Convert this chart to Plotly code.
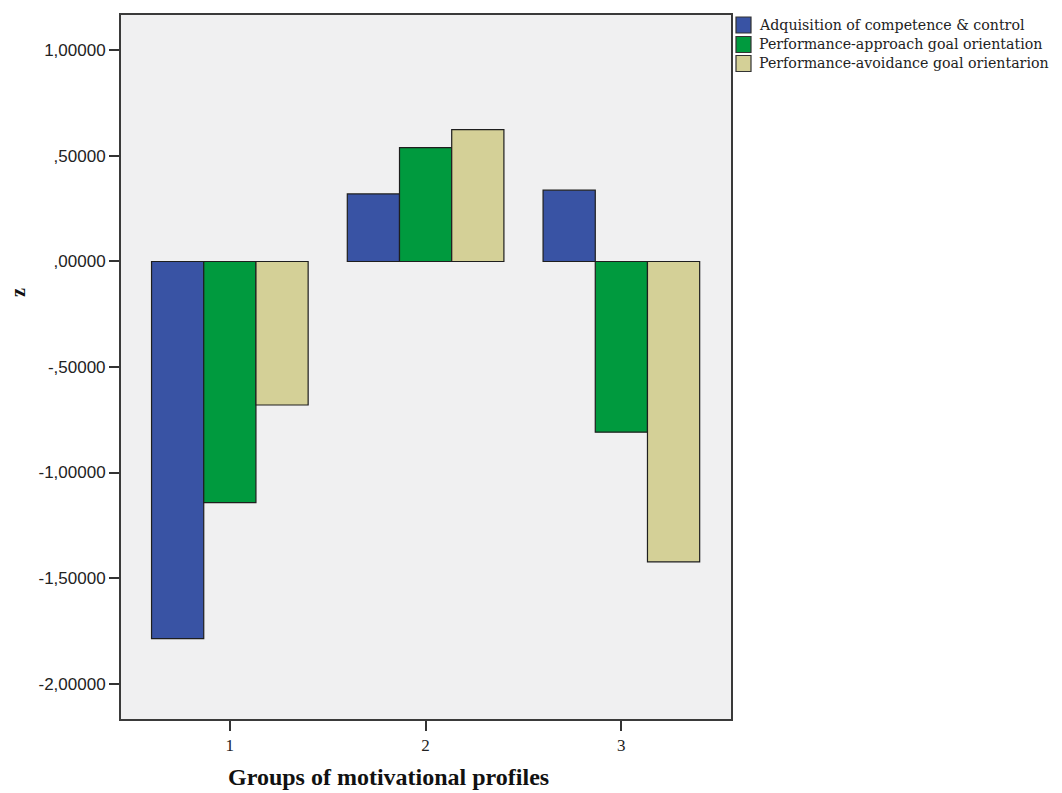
import plotly.graph_objects as go

groups = ["1", "2", "3"]
series_names = [
    "Adquisition of competence & control",
    "Performance-approach goal orientation",
    "Performance-avoidance goal orientarion",
]
competence = [-1.787, 0.32, 0.338]
approach = [-1.143, 0.54, -0.809]
avoidance = [-0.68, 0.625, -1.423]
colors = ["#3953a4", "#009a3e", "#d4d097"]
y_ticks = [1.0, 0.5, 0.0, -0.5, -1.0, -1.5, -2.0]
y_tick_text = ["1,00000", ",50000", ",00000", "-,50000", "-1,00000", "-1,50000", "-2,00000"]

W, H = 1062, 793
L, R, T, B = 121, 331, 15, 74
PW, PH = W - L - R, H - T - B

x_pos = [1, 2, 3]
fig = go.Figure()
for name, vals, col in zip(series_names, [competence, approach, avoidance], colors):
    fig.add_trace(go.Bar(
        x=x_pos, y=vals, name=name,
        marker=dict(color=col, line=dict(color="#1e1e1e", width=1.2)),
    ))

fig.update_layout(
    width=W, height=H,
    margin=dict(l=L, r=R, t=T, b=B),
    paper_bgcolor="white", plot_bgcolor="#f0f0f1",
    barmode="group", bargap=0.2, bargroupgap=0,
    showlegend=False,
    font=dict(family="Liberation Sans", color="#222"),
)
fig.update_xaxes(
    range=[0.444, 3.56], tickvals=x_pos, ticktext=groups,
    ticks="outside", ticklen=10, tickcolor="#333", tickwidth=1.5,
    tickfont=dict(family="Liberation Serif", size=17, color="#222"),
    showline=True, linecolor="#3a3a3a", linewidth=2, mirror=True,
    showgrid=False, zeroline=False,
)
fig.update_yaxes(
    range=[-2.168, 1.168], tickvals=y_ticks, ticktext=y_tick_text,
    ticks="outside", ticklen=10, tickcolor="#333", tickwidth=1.5,
    tickfont=dict(family="Liberation Sans", size=17, color="#222"),
    showline=True, linecolor="#3a3a3a", linewidth=2, mirror=True,
    showgrid=False, zeroline=False,
)


def px_x(p):
    return (p - L) / PW


def px_y(p):
    return (H - B - p) / PH


# Legend (drawn manually to match the compact SPSS-style layout)
legend_rows = [25, 44.5, 63.5]
for name, col, cy in zip(series_names, colors, legend_rows):
    fig.add_shape(
        type="rect", xref="paper", yref="paper",
        x0=px_x(736), x1=px_x(751), y0=px_y(cy - 8), y1=px_y(cy + 8),
        fillcolor=col, line=dict(color="#333", width=1.2),
    )
    fig.add_annotation(
        text=name, xref="paper", yref="paper",
        x=px_x(757), y=px_y(cy), xanchor="left", yanchor="middle",
        showarrow=False, font=dict(family="DejaVu Serif", size=14.2, color="#222"),
    )

fig.add_annotation(
    text="<b>Groups of motivational profiles</b>", xref="paper", yref="paper",
    x=px_x(388), y=px_y(777), xanchor="center", yanchor="middle",
    showarrow=False, font=dict(family="Liberation Serif", size=24, color="#111"),
)
fig.add_annotation(
    text="<b>z</b>", xref="paper", yref="paper",
    x=px_x(18), y=px_y(293), xanchor="center", yanchor="middle",
    textangle=-90, showarrow=False,
    font=dict(family="Liberation Serif", size=20, color="#111"),
)
fig.write_html(
    "out.html",
    config={"displayModeBar": False},
    post_script="document.body.style.margin='0';document.body.style.overflow='hidden';",
)
